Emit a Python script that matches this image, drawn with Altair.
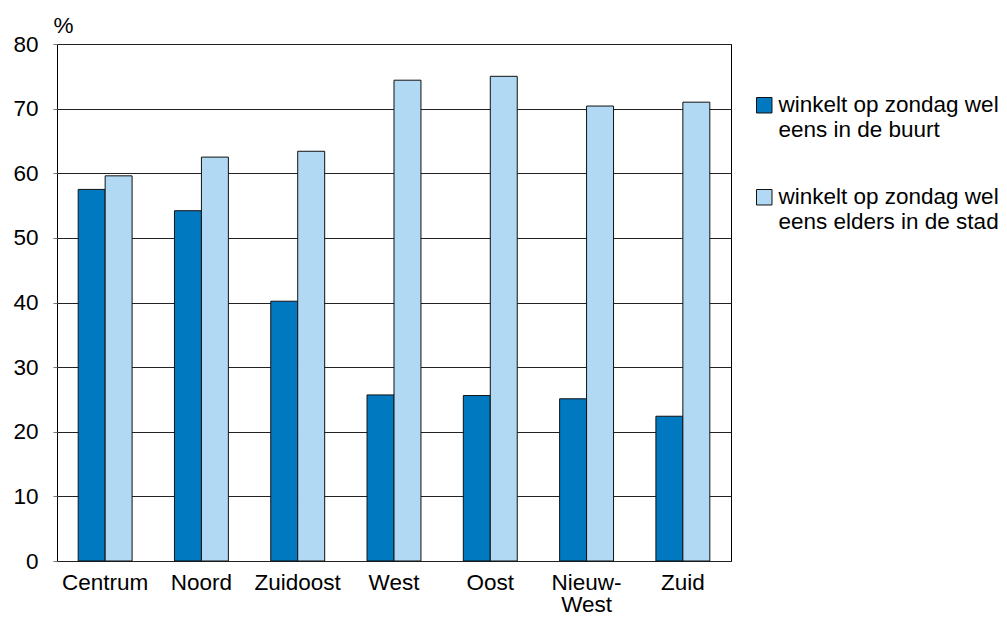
import altair as alt
import pandas as pd

districts = ["Centrum", "Noord", "Zuidoost", "West", "Oost", "Nieuw-West", "Zuid"]
series = ["winkelt op zondag wel eens in de buurt",
          "winkelt op zondag wel eens elders in de stad"]
buurt = [57.5, 54.2, 40.2, 25.7, 25.6, 25.1, 22.4]
elders = [59.6, 62.5, 63.4, 74.4, 75.0, 70.4, 71.0]
colors = ["#0079C1", "#B1D9F4"]
y_ticks = [0, 10, 20, 30, 40, 50, 60, 70, 80]

rows = []
for d, a, b in zip(districts, buurt, elders):
    rows.append({"wijk": d, "reeks": series[0], "waarde": a})
    rows.append({"wijk": d, "reeks": series[1], "waarde": b})
df = pd.DataFrame(rows)

FONT = "Liberation Sans"
FS = 22.5
LFS = 22.5

chart = alt.Chart(df).mark_bar(stroke="#111111", strokeWidth=1).encode(
    x=alt.X("wijk:N", sort=districts,
            scale=alt.Scale(paddingInner=0.44, paddingOuter=0.22),
            axis=alt.Axis(title=None, labelAngle=0, ticks=False, domain=False,
                          labelPadding=10, labelFont=FONT, labelFontSize=FS,
                          labelColor="#000000", labelLineHeight=22,
                          labelExpr="datum.label == 'Nieuw-West' ? ['Nieuw-', 'West'] : datum.label")),
    xOffset=alt.XOffset("reeks:N", sort=series),
    y=alt.Y("waarde:Q", scale=alt.Scale(domain=[0, 80], nice=False),
            axis=alt.Axis(title="%", values=y_ticks, grid=True, gridColor="#222222",
                          gridWidth=1, domain=False, tickSize=4, tickColor="#777777",
                          labelPadding=15, labelFont=FONT, labelFontSize=FS,
                          labelColor="#000000",
                          titleAngle=0, titleAlign="left", titleBaseline="alphabetic",
                          titleX=-4, titleY=-12, titleFont=FONT, titleFontSize=FS,
                          titleFontWeight="normal", titleColor="#000000")),
    color=alt.Color("reeks:N", sort=series,
                    scale=alt.Scale(domain=series, range=colors),
                    legend=alt.Legend(title=None, orient="none", legendX=696, legendY=50,
                                      symbolType="square", symbolSize=240,
                                      symbolStrokeColor="#111111", symbolStrokeWidth=1,
                                      labelFont=FONT, labelFontSize=LFS, labelColor="#000000",
                                      labelLimit=400, labelOffset=3, rowPadding=44,
                                      labelExpr="[slice(datum.label, 0, 21), slice(datum.label, 22)]")),
).properties(
    width=674, height=517,
    autosize=alt.AutoSizeParams(type="none"),
    padding={"left": 49, "top": 36, "right": 268, "bottom": 52},
).configure_view(
    stroke="#000000", strokeWidth=1
)

chart.save("out.html", embed_options={"renderer": "svg", "actions": False})
